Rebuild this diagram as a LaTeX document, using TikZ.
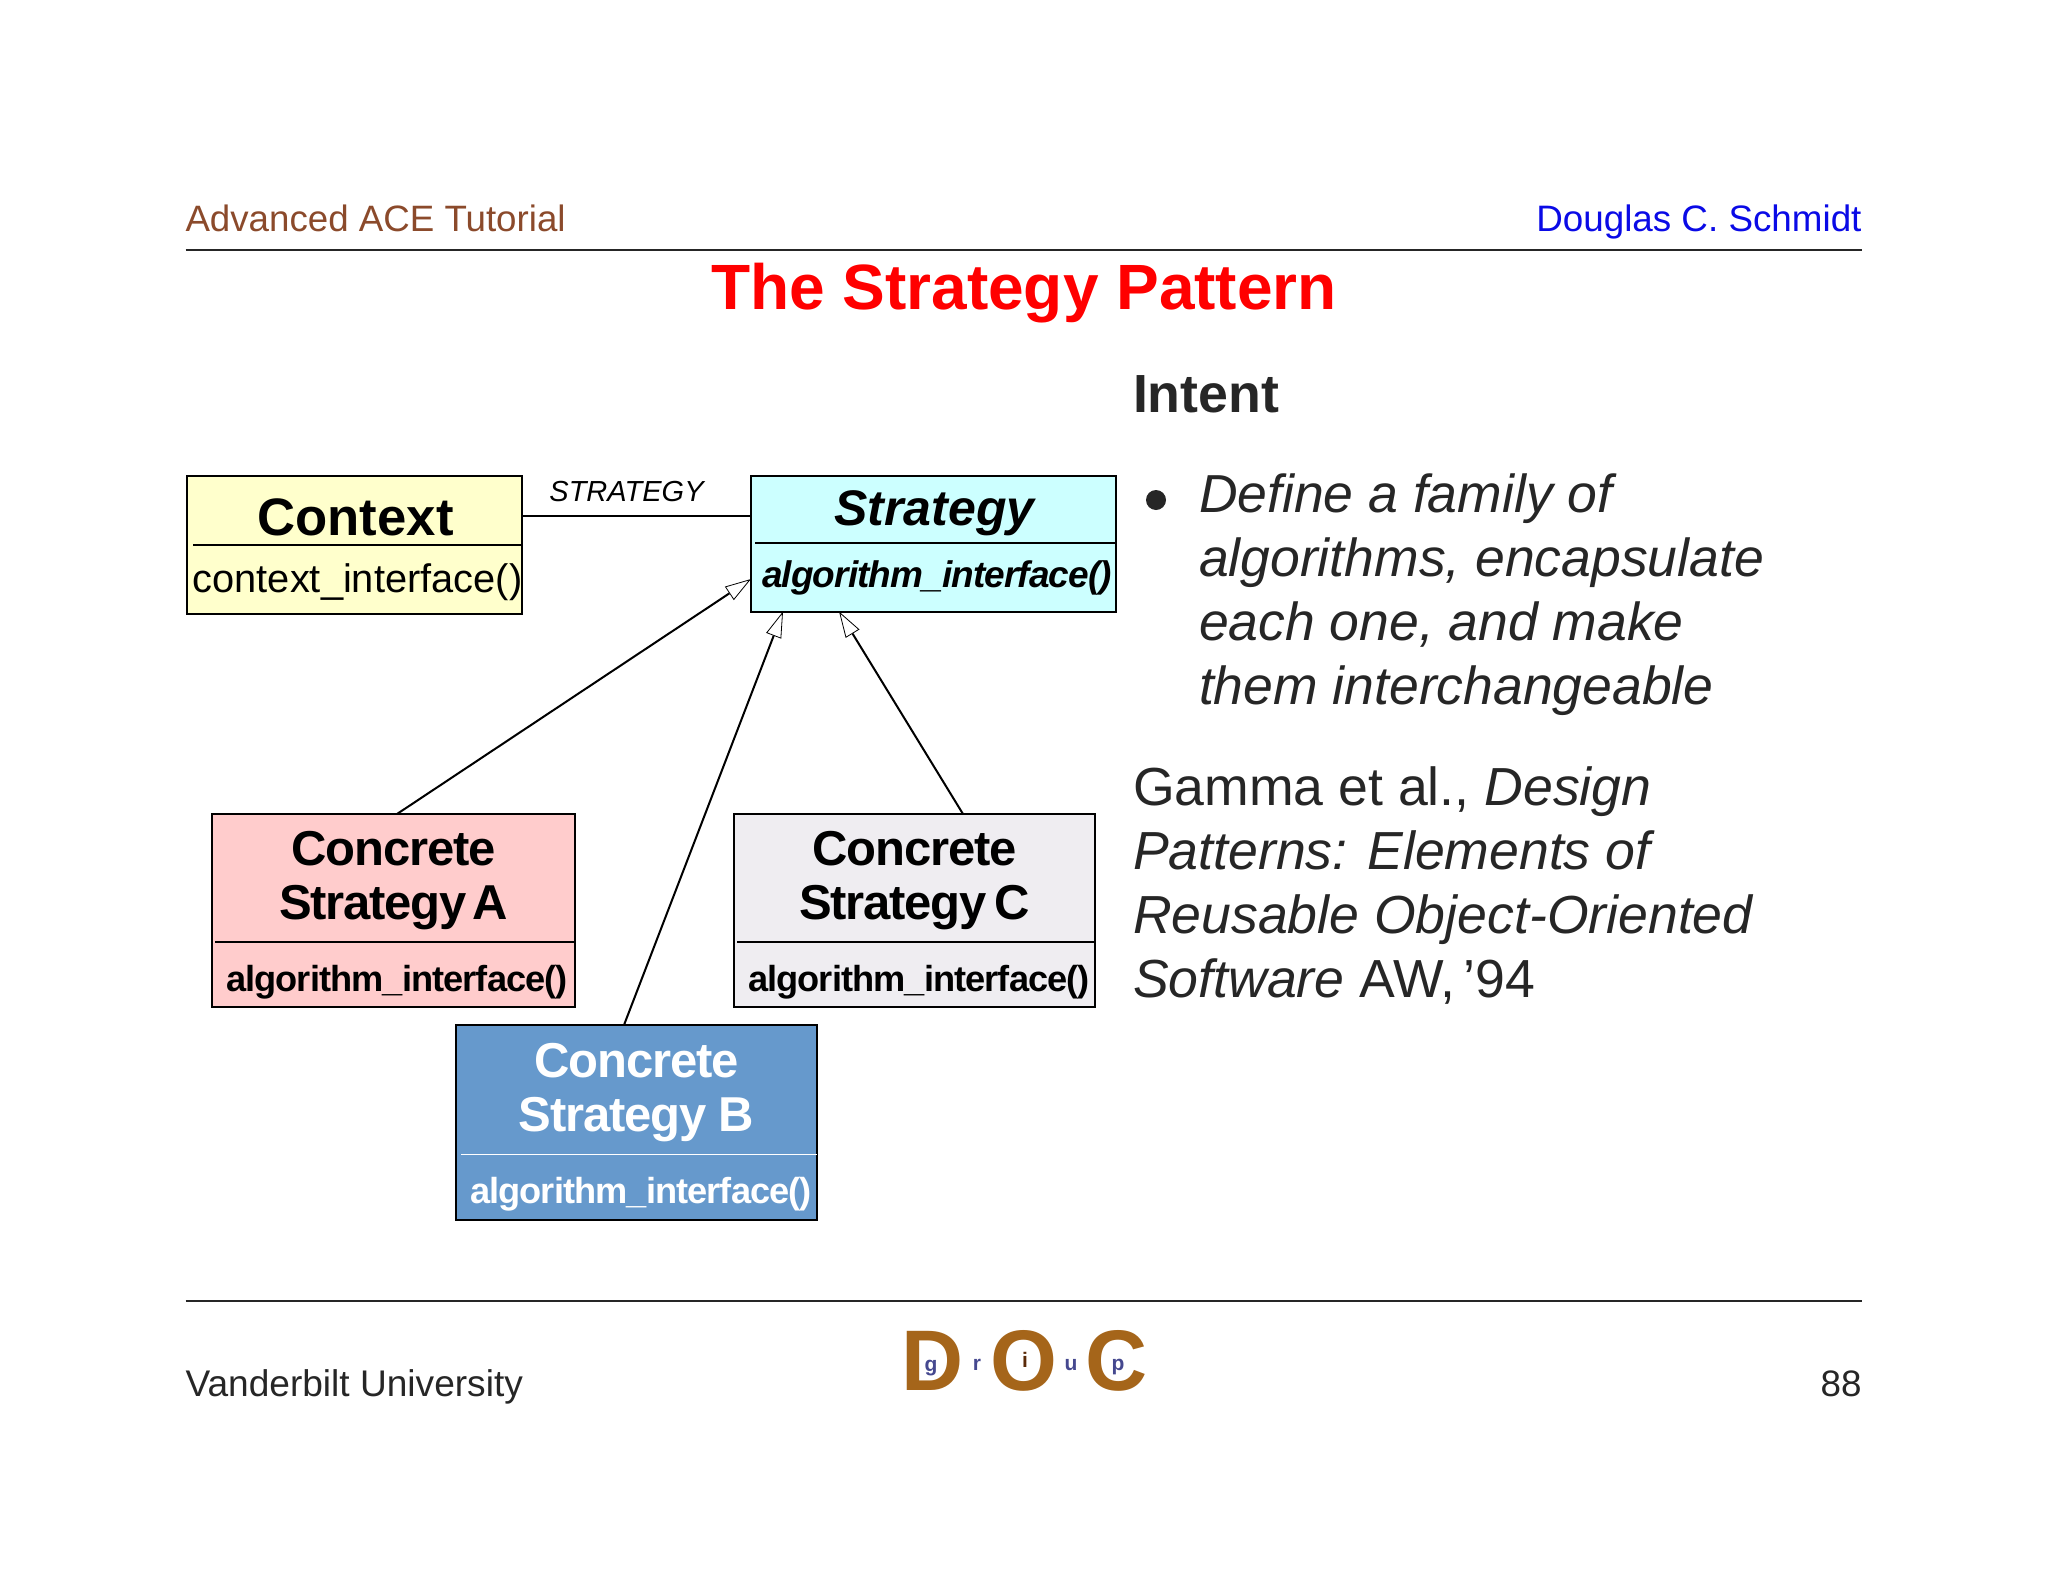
\documentclass[tikz,border=0pt]{standalone}
\usepackage{fontspec}
\setmainfont{Liberation Sans}
\newfontfamily\tightfont[LetterSpace=-2.5]{Liberation Sans}
\usetikzlibrary{positioning,arrows.meta}

\definecolor{headbrown}{HTML}{8B4A2B}
\definecolor{headblue}{HTML}{0A0AE6}
\definecolor{bodygray}{HTML}{262626}
\definecolor{ctxyellow}{HTML}{FFFFCC}
\definecolor{stratcyan}{HTML}{CCFFFF}
\definecolor{apink}{HTML}{FFCCCC}
\definecolor{bblue}{HTML}{6699CC}
\definecolor{cgray}{HTML}{EFEDF1}
\definecolor{logobrown}{HTML}{A5651A}
\definecolor{logodark}{HTML}{5A2A08}
\definecolor{logonavy}{HTML}{45488F}

\newcommand{\downby}[2]{\raisebox{-#1}[0pt][0pt]{#2}}

\tikzset{
  slidetext/.style={inner sep=0pt, outer sep=0pt, anchor=base west},
  classpart/.style={inner sep=0pt, outer sep=0pt, align=center},
  classrule/.style={draw=black, line width=2pt},
  dividerrule/.style={draw=black, line width=1.6pt},
  inherit/.style={draw=black, line width=2pt,
    -{Triangle[open, fill=white, length=26pt, width=16pt, line width=0.8pt]}},
  logoletter/.style={inner sep=0pt, outer sep=0pt, anchor=base,
    font=\fontsize{86}{86}\selectfont\bfseries, text=logobrown},
  logosmall/.style={inner sep=0pt, outer sep=0pt, anchor=base,
    font=\fontsize{21}{21}\selectfont\bfseries, text=logonavy}
}

\begin{document}
\begin{tikzpicture}[x=1pt, y=-1pt]
      \useasboundingbox (0,0) rectangle (2048,1582);

      % Slide header
      \node(course)[slidetext, text=headbrown, font=\fontsize{36.7}{36.7}\selectfont] at (185.5,231) {Advanced ACE Tutorial};
      \node(speaker)[slidetext, anchor=base east, text=headblue, font=\fontsize{36.8}{36.8}\selectfont] at (1861.5,231) {Douglas C. Schmidt};
      \coordinate (topleft) at (185.5,250);
      \coordinate (topright) at (1861.5,250);
      \draw[line width=1.6pt, draw=bodygray] (topleft) -- (topright);
      \node(title)[slidetext, anchor=base, text=red, font=\fontsize{64}{64}\selectfont\bfseries] at (1024,309) {The Strategy Pattern};

      % Context class
      \node(context)[classpart, anchor=north west, fill=ctxyellow, minimum width=335pt, minimum height=69pt,
          font=\fontsize{52.7}{52.7}\selectfont\bfseries] at (187,476) {\hspace{2pt}\downby{25pt}{Context}};
      \node(contextops)[classpart, below=0pt of context, fill=ctxyellow, minimum width=335pt, minimum height=69pt,
          font=\fontsize{39.8}{39.8}\selectfont] {\hspace{6pt}\downby{13pt}{context\_interface()}};
      \draw[classrule] (context.north west) rectangle (contextops.south east);
      \draw[dividerrule] ([xshift=6pt]context.south west) -- (context.south east);

      % Strategy class
      \node(strategy)[classpart, anchor=north west, fill=stratcyan, minimum width=365pt, minimum height=67pt,
          font=\fontsize{50}{50}\selectfont\bfseries\itshape] at (751,476) {\hspace{2pt}\downby{16pt}{Strategy}};
      \node(strategyops)[classpart, below=0pt of strategy, fill=stratcyan, minimum width=365pt, minimum height=68.5pt,
          font=\tightfont\fontsize{37}{37}\selectfont\bfseries\itshape] {\hspace{7pt}\downby{10pt}{algorithm\_interface()}};
      \draw[classrule] (strategy.north west) rectangle (strategyops.south east);
      \draw[dividerrule] ([xshift=4pt]strategy.south west) -- (strategy.south east);

      % Concrete strategy A
      \node(concretea)[classpart, anchor=north west, fill=apink, minimum width=363pt, minimum height=128pt,
          font=\tightfont\fontsize{49}{54}\selectfont\bfseries] at (212,814) {\rule{0pt}{40pt}Concrete\\Strategy\hspace{-7pt} A};
      \node(concreteaops)[classpart, below=0pt of concretea, fill=apink, minimum width=363pt, minimum height=65pt,
          font=\tightfont\fontsize{36.2}{36.2}\selectfont\bfseries] {\hspace{7pt}\downby{16.5pt}{algorithm\_interface()}};
      \draw[classrule] (concretea.north west) rectangle (concreteaops.south east);
      \draw[dividerrule] ([xshift=3pt]concretea.south west) -- (concretea.south east);

      % Concrete strategy C
      \node(concretec)[classpart, anchor=north west, fill=cgray, minimum width=361pt, minimum height=128pt,
          font=\tightfont\fontsize{49}{54}\selectfont\bfseries] at (734,814) {\rule{0pt}{40pt}Concrete\\Strategy\hspace{-5pt} C};
      \node(concretecops)[classpart, below=0pt of concretec, fill=cgray, minimum width=361pt, minimum height=65pt,
          font=\tightfont\fontsize{36.2}{36.2}\selectfont\bfseries] {\hspace{9pt}\downby{16.5pt}{algorithm\_interface()}};
      \draw[classrule] (concretec.north west) rectangle (concretecops.south east);
      \draw[dividerrule] ([xshift=3pt]concretec.south west) -- (concretec.south east);

      % Concrete strategy B
      \node(concreteb)[classpart, anchor=north west, fill=bblue, text=white, minimum width=361pt, minimum height=129.5pt,
          font=\tightfont\fontsize{49}{54}\selectfont\bfseries] at (456,1025) {\rule{0pt}{40pt}Concrete\\Strategy B};
      \node(concretebops)[classpart, below=0pt of concreteb, fill=bblue, text=white, minimum width=361pt, minimum height=65pt,
          font=\tightfont\fontsize{36.2}{36.2}\selectfont\bfseries] {\hspace{9pt}\downby{16.5pt}{algorithm\_interface()}};
      \draw[classrule] (concreteb.north west) rectangle (concretebops.south east);
      \draw[dividerrule, draw=white] ([xshift=5pt]concreteb.south west) -- (concreteb.south east);

      % Aggregation line and its label
      \draw[line width=2pt] ([yshift=-40pt]context.north east) -- ([yshift=-40pt]strategy.north west);
      \node(strategylabel)[slidetext, anchor=base, font=\fontsize{29}{29}\selectfont\itshape] at (626.5,501) {STRATEGY};

      % Inheritance arrows
      \draw[inherit] ([xshift=185pt]concretea.north west) -- ([yshift=-36pt]strategyops.north west);
      \draw[inherit] ([xshift=168pt]concreteb.north west) -- ([xshift=32pt]strategyops.south west);
      \draw[inherit] ([xshift=229pt]concretec.north west) -- ([xshift=88pt]strategyops.south west);

      % Intent text
      \node(intent)[slidetext, text=bodygray, font=\fontsize{53.7}{53.7}\selectfont\bfseries] at (1133,412.5) {Intent};
      \node(bullet)[circle, fill=bodygray, minimum size=20pt, inner sep=0pt] at (1156,500) {};
      \node(define)[classpart, align=left, anchor=north west, text=bodygray, font=\fontsize{53.5}{64}\selectfont\itshape] at (1199,474)
          {Define a family of\\algorithms, encapsulate\\each one, and make\\them interchangeable};
      \node(gamma)[classpart, align=left, anchor=north west, text=bodygray, font=\fontsize{53.6}{64}\selectfont] at (1133,767)
          {Gamma et al., \textit{Design}\\\textit{Patterns: Elements of}\\\textit{Reusable Object-Oriented}\\\textit{Software} AW,\hspace{-7pt} ’94};

      % Slide footer
      \coordinate (bottomleft) at (185.5,1301);
      \coordinate (bottomright) at (1861.5,1301);
      \draw[line width=1.8pt, draw=bodygray] (bottomleft) -- (bottomright);
      \node(school)[slidetext, text=bodygray, font=\fontsize{37.1}{37.1}\selectfont] at (185.5,1396) {Vanderbilt University};
      \node(pagenum)[slidetext, anchor=base east, text=bodygray, font=\fontsize{36.8}{36.8}\selectfont] at (1861.5,1396) {88};

      % Group logo
      \node(logod)[logoletter] at (933,1390) {D};
      \node(logoo)[logoletter] at (1024,1390) {O};
      \node(logoc)[logoletter] at (1117,1390) {C};
      \node(logog)[logosmall] at (931,1371) {g};
      \node(logor)[logosmall] at (977,1370) {r};
      \node(logoi)[logosmall, text=logodark] at (1025,1367) {i};
      \node(logou)[logosmall] at (1071,1370) {u};
      \node(logop)[logosmall] at (1118,1370) {p};
\end{tikzpicture}
\end{document}
